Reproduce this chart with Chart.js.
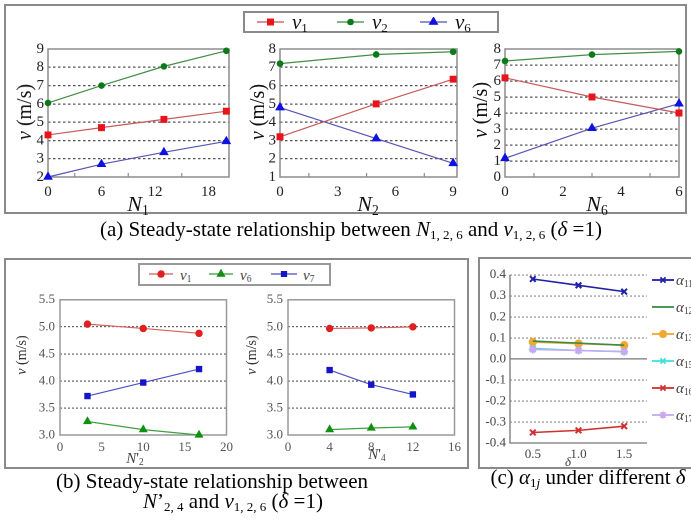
<!DOCTYPE html>
<html><head><meta charset="utf-8">
<script src="https://cdn.jsdelivr.net/npm/chart.js@4.4.1/dist/chart.umd.min.js"></script>
<style>
html,body{margin:0;padding:0;background:#fff;overflow:hidden;}
#root{position:relative;width:691px;height:520px;overflow:hidden;font-family:"Liberation Serif","Times New Roman",serif;color:#111;}
.frame{position:absolute;border:2px solid #8a8a8a;box-sizing:border-box;}
.abs{position:absolute;white-space:nowrap;line-height:1;}
canvas{position:absolute;}
sub{font-size:62%;vertical-align:-0.28em;line-height:0;}
.cap{font-size:21px;color:#000;transform:translate(-50%,-50%);}
.leg{position:absolute;border:2px solid #8a8a8a;box-sizing:border-box;background:#fff;}
</style></head>
<body><div id="root">
<div class="frame" style="left:4px;top:4px;width:683px;height:210px;"></div>
<div class="frame" style="left:4px;top:258px;width:465px;height:211px;"></div>
<div class="frame" style="left:478px;top:257px;width:230px;height:212px;"></div>
</div>
<script>
// ---------- data ----------
const a1X = [0, 6, 13, 20];
const a1V1 = [4.3, 4.7, 5.15, 5.6];
const a1V2 = [6.05, 7.0, 8.05, 8.9];
const a1V6 = [2.0, 2.7, 3.35, 3.95];
const a2X = [0, 5, 9];
const a2V1 = [3.2, 5.0, 6.35];
const a2V2 = [7.2, 7.7, 7.85];
const a2V6 = [4.8, 3.1, 1.75];
const a3X = [0, 3, 6];
const a3V1 = [6.2, 5.0, 4.0];
const a3V2 = [7.25, 7.65, 7.85];
const a3V6 = [1.17, 3.05, 4.58];
const b1X = [3.3, 10, 16.7];
const b1V1 = [5.05, 4.97, 4.88];
const b1V6 = [3.25, 3.1, 3.0];
const b1V7 = [3.72, 3.97, 4.22];
const b2X = [4, 8, 12];
const b2V1 = [4.97, 4.98, 5.0];
const b2V6 = [3.1, 3.13, 3.15];
const b2V7 = [4.2, 3.93, 3.75];
const cDelta = ['0.5', '1.0', '1.5'];
const cA11 = [0.38, 0.35, 0.32];
const cA12 = [0.085, 0.075, 0.065];
const cA13 = [0.08, 0.072, 0.065];
const cA15 = [0.05, 0.04, 0.035];
const cA16 = [-0.35, -0.34, -0.32];
const cA17 = [0.045, 0.04, 0.034];

const root = document.getElementById('root');
function pts(xs, ys){ return xs.map((x,i)=>({x:x, y:ys[i]})); }
function label(html, x, y, cls, style){
  const d = document.createElement('div');
  d.className = 'abs ' + (cls||'');
  d.innerHTML = html;
  d.style.left = x + 'px'; d.style.top = y + 'px';
  if (style) d.setAttribute('style', d.getAttribute('style') + ';' + style);
  root.appendChild(d);
  return d;
}
function canvasAt(x, y, w, h){
  const c = document.createElement('canvas');
  c.width = w; c.height = h;
  c.style.left = x + 'px'; c.style.top = y + 'px';
  c.style.width = w + 'px'; c.style.height = h + 'px';
  root.appendChild(c);
  return c;
}

const boxPlugin = {
  id: 'boxPlugin',
  afterDatasetsDraw(chart, args, opts){
    const ca = chart.chartArea, ctx = chart.ctx;
    ctx.save();
    if (opts.minor) {
      const xs = chart.scales.x;
      ctx.strokeStyle = opts.color; ctx.lineWidth = 1.2;
      opts.minor.forEach(v => {
        const px = xs.getPixelForValue(v);
        ctx.beginPath(); ctx.moveTo(px, ca.bottom); ctx.lineTo(px, ca.bottom - 4); ctx.stroke();
      });
    }
    ctx.restore();
  },
  beforeDatasetsDraw(chart, args, opts){
    const ca = chart.chartArea, ctx = chart.ctx;
    ctx.save();
    ctx.strokeStyle = opts.color || '#888';
    ctx.lineWidth = opts.width || 1.5;
    if (opts.box) ctx.strokeRect(ca.left, ca.top, ca.right - ca.left, ca.bottom - ca.top);
    if (opts.zero) {
      const py = chart.scales.y.getPixelForValue(0);
      ctx.lineWidth = 1.3; ctx.strokeStyle = '#777';
      ctx.beginPath(); ctx.moveTo(ca.left, py); ctx.lineTo(ca.right, py); ctx.stroke();
      ctx.beginPath(); ctx.moveTo(ca.left, ca.top); ctx.lineTo(ca.left, ca.bottom); ctx.lineTo(ca.right, ca.bottom); ctx.stroke();
    }
    ctx.restore();
  }
};

function ds(data, line, mark, style, r){
  return {data: data, borderColor: line, backgroundColor: mark, pointBackgroundColor: mark, pointBorderColor: mark,
    pointStyle: style, pointRadius: r, pointBorderWidth: 1, borderWidth: 1.2, tension: 0, clip: false};
}

function lineChart(o){
  const c = canvasAt(o.x, o.y, o.w, o.h);
  return new Chart(c, {
    type: 'line',
    data: {datasets: o.datasets},
    plugins: [boxPlugin],
    options: {
      responsive: false, animation: false, devicePixelRatio: 2,
      layout: {padding: {top: o.padTop, right: o.padRight, left: 0, bottom: 0}},
      plugins: {legend: {display: false}, tooltip: {enabled: false},
        boxPlugin: {box: true, color: o.boxColor, width: 1.5, minor: o.minor}},
      scales: {
        x: {type: 'linear', min: o.xMin, max: o.xMax,
          afterFit: s => { s.height = o.xH; },
          afterBuildTicks: s => { s.ticks = o.xTicks.map(v => ({value: v})); },
          ticks: {font: o.font, color: o.tickColor, padding: o.xPad, maxRotation: 0, autoSkip: false, callback: v => o.xFmt ? o.xFmt(v) : v},
          grid: {display: false, drawTicks: false}, border: {display: false}},
        y: {type: 'linear', min: o.yMin, max: o.yMax,
          afterFit: s => { s.width = o.yW; },
          afterBuildTicks: s => { s.ticks = o.yTicks.map(v => ({value: v})); },
          ticks: {font: o.font, color: o.tickColor, padding: o.yPad, autoSkip: false, callback: v => o.yFmt ? o.yFmt(v) : v},
          grid: {drawTicks: false, lineWidth: 1.2,
            color: ctx => (ctx.tick && (ctx.tick.value === o.yMin || ctx.tick.value === o.yMax)) ? 'rgba(0,0,0,0)' : o.gridColor},
          border: {display: false, dash: o.dash}}
      }
    }
  });
}

// ---------- panel (a) ----------
const RED_L = '#c85a5a', RED_M = '#e8141c';
const GRN_L = '#3f8f45', GRN_M = '#0a7a1a';
const BLU_L = '#5555b5', BLU_M = '#1010e0';
const fontA = {family: '"Liberation Serif", serif', size: 15};
function aSets(x, v1, v2, v6){
  return [ds(pts(x, v1), RED_L, RED_M, 'rect', 4.2),
          ds(pts(x, v2), GRN_L, GRN_M, 'circle', 2.8),
          ds(pts(x, v6), BLU_L, BLU_M, 'triangle', 4.6)];
}
const aCommon = {h: 165, y: 36, padTop: 10, xH: 24, font: fontA, tickColor: '#222', xPad: 6, yPad: 4,
  gridColor: '#555', dash: [2.5, 2.5], boxColor: '#8c8c8c'};
lineChart(Object.assign({}, aCommon, {x: 17, w: 222, padRight: 10, yW: 31,
  xMin: 0, xMax: 20.3, xTicks: [0, 6, 12, 18], yMin: 2, yMax: 9, yTicks: [2,3,4,5,6,7,8,9],
  minor: [3, 9, 15], datasets: aSets(a1X, a1V1, a1V2, a1V6)}));
lineChart(Object.assign({}, aCommon, {x: 249, w: 219, padRight: 11, yW: 31,
  xMin: 0, xMax: 9.2, xTicks: [0, 3, 6, 9], yMin: 1, yMax: 8, yTicks: [1,2,3,4,5,6,7,8],
  minor: [1.5, 4.5, 7.5], datasets: aSets(a2X, a2V1, a2V2, a2V6)}));
lineChart(Object.assign({}, aCommon, {x: 475, w: 214, padRight: 10, yW: 30,
  xMin: 0, xMax: 6, xTicks: [0, 2, 4, 6], yMin: 0, yMax: 8, yTicks: [0,1,2,3,4,5,6,7,8],
  minor: [1, 3, 5], datasets: aSets(a3X, a3V1, a3V2, a3V6)}));

// axis titles (a)
const vTitleA = '<i>v</i> (m/s)';
[[24, 112], [257, 112], [480, 110]].forEach(p =>
  label(vTitleA, p[0], p[1], '', 'font-size:20px;transform:translate(-50%,-50%) rotate(-90deg);'));
[['N','1',138], ['N','2',368], ['N','6',597]].forEach(p =>
  label('<i>' + p[0] + '</i><sub>' + p[1] + '</sub>', p[2], 204, '', 'font-size:22px;transform:translate(-50%,-50%);'));

// legend (a)
function markerCanvas(x, y, w, h, line, mark, style, r, lw){
  const c = canvasAt(x, y, w, h);
  const ctx = c.getContext('2d');
  ctx.strokeStyle = line; ctx.lineWidth = lw || 1.3;
  ctx.beginPath(); ctx.moveTo(0, h/2); ctx.lineTo(w, h/2); ctx.stroke();
  if (style) {
    ctx.fillStyle = mark; ctx.strokeStyle = mark;
    Chart.helpers.drawPoint(ctx, {pointStyle: style, radius: r, borderWidth: style.indexOf('cross') >= 0 || style === 'star' ? 2 : 1, rotation: 0}, w/2, h/2);
  }
}
const legA = document.createElement('div'); legA.className = 'leg';
legA.setAttribute('style', 'left:243px;top:11px;width:256px;height:22px;');
root.appendChild(legA);
markerCanvas(257, 17, 27, 10, RED_L, RED_M, 'rect', 4);
label('<i>v</i><sub>1</sub>', 292, 22, '', 'font-size:21px;transform:translateY(-50%);');
markerCanvas(337, 17, 27, 10, GRN_L, GRN_M, 'circle', 2.6);
label('<i>v</i><sub>2</sub>', 372, 22, '', 'font-size:21px;transform:translateY(-50%);');
markerCanvas(420, 17, 27, 10, BLU_L, BLU_M, 'triangle', 4.4);
label('<i>v</i><sub>6</sub>', 455, 22, '', 'font-size:21px;transform:translateY(-50%);');

label('(a) Steady-state relationship between <i>N</i><sub>1, 2, 6</sub> and <i>v</i><sub>1, 2, 6</sub> (<i>δ</i> =1)', 351, 229, 'cap');

// ---------- panel (b) ----------
const bR_L = '#d86060', bR_M = '#e02020';
const bG_L = '#40a040', bG_M = '#109010';
const bB_L = '#5050c0', bB_M = '#1515c8';
const fontB = {family: '"Liberation Serif", serif', size: 13};
function bSets(x, v1, v6, v7){
  return [ds(pts(x, v1), bR_L, bR_M, 'circle', 3.2),
          ds(pts(x, v6), bG_L, bG_M, 'triangle', 4.2),
          ds(pts(x, v7), bB_L, bB_M, 'rect', 3.8)];
}
const bCommon = {y: 287, h: 170, padTop: 10, xH: 22, font: fontB, tickColor: '#555', xPad: 5, yPad: 5,
  gridColor: '#666', dash: [2, 2], boxColor: '#999',
  yMin: 3.0, yMax: 5.5, yTicks: [3.0, 3.5, 4.0, 4.5, 5.0, 5.5], yFmt: v => v.toFixed(1)};
lineChart(Object.assign({}, bCommon, {x: 25, w: 213, padRight: 6, yW: 35,
  xMin: 0, xMax: 20, xTicks: [0, 5, 10, 15, 20], minor: [], datasets: bSets(b1X, b1V1, b1V6, b1V7)}));
lineChart(Object.assign({}, bCommon, {x: 253, w: 213, padRight: 5, yW: 35,
  xMin: 0, xMax: 16, xTicks: [0, 4, 8, 12, 16], minor: [], datasets: bSets(b2X, b2V1, b2V6, b2V7)}));

[[22, 355], [252, 355]].forEach(p =>
  label('<i>v</i> (m/s)', p[0], p[1], '', 'font-size:14px;color:#333;transform:translate(-50%,-50%) rotate(-90deg);'));
label('<i>N</i>\'<sub>2</sub>', 135, 458, '', 'font-size:15px;color:#444;transform:translate(-50%,-50%);');
label('<i>N</i>\'<sub>4</sub>', 377, 454, '', 'font-size:15px;color:#444;transform:translate(-50%,-50%);');

const legB = document.createElement('div'); legB.className = 'leg';
legB.setAttribute('style', 'left:138px;top:263px;width:193px;height:23px;border-color:#999;');
root.appendChild(legB);
markerCanvas(149, 269, 24, 10, bR_L, bR_M, 'circle', 3);
label('<i>v</i><sub>1</sub>', 180, 275, '', 'font-size:15px;color:#444;transform:translateY(-50%);');
markerCanvas(209, 269, 24, 10, bG_L, bG_M, 'triangle', 4);
label('<i>v</i><sub>6</sub>', 240, 275, '', 'font-size:15px;color:#444;transform:translateY(-50%);');
markerCanvas(271, 269, 26, 10, bB_L, bB_M, 'rect', 3.5);
label('<i>v</i><sub>7</sub>', 303, 275, '', 'font-size:15px;color:#444;transform:translateY(-50%);');

label('(b) Steady-state relationship between', 212, 481, 'cap');
label('<i>N</i>’<sub>2, 4</sub> and <i>v</i><sub>1, 2, 6</sub> (<i>δ</i> =1)', 233, 501, 'cap');

// ---------- panel (c) ----------
const cColors = {a11: '#2020a8', a12: '#3a8a4a', a13: '#f0a830', a15: '#40e0e0', a16: '#d03030', a17: '#c8a8f0'};
function cds(data, col, style, r){
  const d = ds(data, col, col, style, r);
  d.borderWidth = 1.6; d.pointBorderWidth = 2; d.pointBackgroundColor = col;
  return d;
}
{
  const c = canvasAt(478, 263, 175, 200);
  new Chart(c, {
    type: 'line',
    data: {labels: cDelta, datasets: [
      cds(cA12, cColors.a12, false, 0),
      cds(cA17, cColors.a17, 'star', 4),
      cds(cA15, cColors.a15, 'crossRot', 4),
      cds(cA13, cColors.a13, 'circle', 3.2),
      cds(cA11, cColors.a11, 'crossRot', 4),
      cds(cA16, cColors.a16, 'crossRot', 4)
    ]},
    plugins: [boxPlugin],
    options: {
      responsive: false, animation: false, devicePixelRatio: 2,
      layout: {padding: {top: 10, right: 6, left: 0, bottom: 0}},
      plugins: {legend: {display: false}, tooltip: {enabled: false}, boxPlugin: {box: false, zero: true}},
      scales: {
        x: {type: 'category', offset: true, afterFit: s => { s.height = 20; },
          ticks: {font: {family: '"Liberation Serif", serif', size: 13}, color: '#444', padding: 4},
          grid: {display: false, drawTicks: false}, border: {display: false}},
        y: {type: 'linear', min: -0.4, max: 0.4, afterFit: s => { s.width = 32; },
          afterBuildTicks: s => { s.ticks = [-0.4,-0.3,-0.2,-0.1,0,0.1,0.2,0.3,0.4].map(v => ({value: v})); },
          ticks: {font: {family: '"Liberation Serif", serif', size: 13}, color: '#444', padding: 4,
            callback: v => v.toFixed(1)},
          grid: {drawTicks: false, lineWidth: 1.1,
            color: ctx => (ctx.tick && (ctx.tick.value === -0.4 || Math.abs(ctx.tick.value) < 1e-9)) ? 'rgba(0,0,0,0)' : '#888'},
          border: {display: false, dash: [2, 2]}}
      }
    }
  });
}
label('<i>δ</i>', 568, 461, '', 'font-size:13px;color:#444;transform:translate(-50%,-50%);');
const cLeg = [['11', cColors.a11, 'crossRot', 280], ['12', cColors.a12, false, 307], ['13', cColors.a13, 'circle', 334],
              ['15', cColors.a15, 'crossRot', 361], ['16', cColors.a16, 'crossRot', 388], ['17', cColors.a17, 'star', 415]];
cLeg.forEach(e => {
  markerCanvas(652, e[3] - 5, 22, 10, e[1], e[1], e[2], e[2] === 'circle' ? 3 : 3.6, 1.8);
  label('<i>α</i><sub>' + e[0] + '</sub>', 676, e[3], '', 'font-size:15px;color:#444;transform:translateY(-50%);');
});

label('(c) <i>α</i><sub>1<i>j</i></sub> under different <i>δ</i>', 588, 477, 'cap');
</script>
</body></html>
